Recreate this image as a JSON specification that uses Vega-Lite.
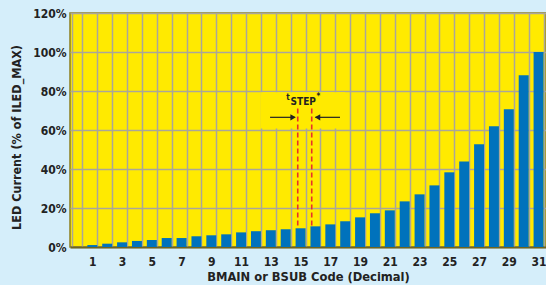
{
  "$schema": "https://vega.github.io/schema/vega-lite/v6.json",
  "width": 476,
  "height": 234,
  "autosize": {"type": "none"},
  "padding": {"left": 70, "top": 13, "right": 0, "bottom": 38},
  "background": "#d5eefa",
  "config": {
    "view": {"fill": "#ffea00", "stroke": "#8c7f1e", "strokeWidth": 1.5},
    "font": "DejaVu Sans Condensed, Roboto, sans-serif",
    "axis": {
      "gridColor": "#aaa69a",
      "gridWidth": 1.5,
      "gridOpacity": 1,
      "labelFont": "DejaVu Sans Condensed, Roboto, sans-serif",
      "labelFontWeight": "bold",
      "labelColor": "#222222",
      "titleFont": "DejaVu Sans Condensed, Roboto, sans-serif",
      "titleFontWeight": "bold",
      "titleColor": "#222222",
      "ticks": false,
      "domain": false
    }
  },
  "layer": [
    {
      "data": {"values": [
        {"code": 1, "pct": 1.0}, {"code": 2, "pct": 1.7}, {"code": 3, "pct": 2.4}, {"code": 4, "pct": 3.1},
        {"code": 5, "pct": 3.6}, {"code": 6, "pct": 4.6}, {"code": 7, "pct": 4.6}, {"code": 8, "pct": 5.5},
        {"code": 9, "pct": 6.0}, {"code": 10, "pct": 6.5}, {"code": 11, "pct": 7.5}, {"code": 12, "pct": 8.1},
        {"code": 13, "pct": 8.6}, {"code": 14, "pct": 9.1}, {"code": 15, "pct": 9.6}, {"code": 16, "pct": 10.6},
        {"code": 17, "pct": 11.6}, {"code": 18, "pct": 13.2}, {"code": 19, "pct": 15.2}, {"code": 20, "pct": 17.3},
        {"code": 21, "pct": 18.8}, {"code": 22, "pct": 23.4}, {"code": 23, "pct": 27.0}, {"code": 24, "pct": 31.6},
        {"code": 25, "pct": 38.3}, {"code": 26, "pct": 43.9}, {"code": 27, "pct": 52.7}, {"code": 28, "pct": 61.9},
        {"code": 29, "pct": 70.6}, {"code": 30, "pct": 88.1}, {"code": 31, "pct": 100.0}
      ]},
      "mark": {"type": "bar", "color": "#0072bc"},
      "encoding": {
        "x": {
          "field": "code", "type": "ordinal",
          "scale": {"domain": [0,1,2,3,4,5,6,7,8,9,10,11,12,13,14,15,16,17,18,19,20,21,22,23,24,25,26,27,28,29,30,31], "paddingInner": 0.33, "paddingOuter": 0.165},
          "axis": {
            "grid": true,
            "tickBand": "extent",
            "labelExpr": "datum.value % 2 == 1 ? datum.label : ''",
            "labelAngle": 0,
            "labelFontSize": 12,
            "labelPadding": 9,
            "title": "BMAIN or BSUB Code (Decimal)",
            "titleFontSize": 12.8,
            "titlePadding": 3,
            "domain": true,
            "domainColor": "#6e6520",
            "domainWidth": 2
          }
        },
        "y": {
          "field": "pct", "type": "quantitative",
          "scale": {"domain": [0, 120], "nice": false},
          "axis": {
            "values": [0, 20, 40, 60, 80, 100, 120],
            "labelExpr": "datum.value + '%'",
            "labelFontSize": 12,
            "labelPadding": 4,
            "labelOverlap": false,
            "title": "LED Current (% of ILED_MAX)",
            "titleFontSize": 12.5,
            "titleX": -47,
            "titleY": 124
          }
        }
      }
    },
    {
      "data": {"values": [{"x1": 12.3, "x2": 18.0, "y1": 60.8, "y2": 79.4}]},
      "mark": {"type": "rect", "color": "#ffea00"},
      "encoding": {
        "x": {"field": "x1", "type": "quantitative", "scale": {"domain": [-0.5, 31.5], "nice": false, "zero": false}, "axis": null},
        "x2": {"field": "x2"},
        "y": {"field": "y1", "type": "quantitative", "scale": {"domain": [0, 120], "nice": false}, "axis": null},
        "y2": {"field": "y2"}
      }
    },
    {
      "data": {"values": [{"x": 14.81, "y1": 71, "y2": 9.6}, {"x": 15.75, "y1": 71, "y2": 10.6}]},
      "mark": {"type": "rule", "color": "#e8302a", "strokeDash": [5, 3], "strokeWidth": 1.6},
      "encoding": {
        "x": {"field": "x", "type": "quantitative", "scale": {"domain": [-0.5, 31.5], "nice": false, "zero": false}, "axis": null},
        "y": {"field": "y1", "type": "quantitative", "scale": {"domain": [0, 120], "nice": false}, "axis": null},
        "y2": {"field": "y2"}
      }
    },
    {
      "data": {"values": [{"x1": 12.95, "x2": 14.6, "y": 66.5}, {"x1": 16.0, "x2": 17.65, "y": 66.5}]},
      "mark": {"type": "rule", "color": "#222222", "strokeWidth": 1.2},
      "encoding": {
        "x": {"field": "x1", "type": "quantitative", "scale": {"domain": [-0.5, 31.5], "nice": false, "zero": false}, "axis": null},
        "x2": {"field": "x2"},
        "y": {"field": "y", "type": "quantitative", "scale": {"domain": [0, 120], "nice": false}, "axis": null}
      }
    },
    {
      "data": {"values": [{"x": 14.5, "y": 66.5, "dir": "right"}, {"x": 16.14, "y": 66.5, "dir": "left"}]},
      "mark": {"type": "point", "filled": true, "opacity": 1, "color": "#222222", "size": 40},
      "encoding": {
        "x": {"field": "x", "type": "quantitative", "scale": {"domain": [-0.5, 31.5], "nice": false, "zero": false}, "axis": null},
        "y": {"field": "y", "type": "quantitative", "scale": {"domain": [0, 120], "nice": false}, "axis": null},
        "shape": {"field": "dir", "type": "nominal", "scale": {"domain": ["right", "left"], "range": ["triangle-right", "triangle-left"]}, "legend": null}
      }
    },
    {
      "data": {"values": [{"x": 14.16, "y": 76.3, "label": "t"}]},
      "mark": {"type": "text", "font": "DejaVu Sans Condensed, Roboto, sans-serif", "fontWeight": "bold", "fontSize": 8, "color": "#222222", "align": "center", "baseline": "middle"},
      "encoding": {
        "x": {"field": "x", "type": "quantitative", "scale": {"domain": [-0.5, 31.5], "nice": false, "zero": false}, "axis": null},
        "y": {"field": "y", "type": "quantitative", "scale": {"domain": [0, 120], "nice": false}, "axis": null},
        "text": {"field": "label"}
      }
    },
    {
      "data": {"values": [{"x": 15.18, "y": 74.4, "label": "STEP"}]},
      "mark": {"type": "text", "font": "DejaVu Sans Condensed, Roboto, sans-serif", "fontWeight": "bold", "fontSize": 10, "color": "#222222", "align": "center", "baseline": "middle"},
      "encoding": {
        "x": {"field": "x", "type": "quantitative", "scale": {"domain": [-0.5, 31.5], "nice": false, "zero": false}, "axis": null},
        "y": {"field": "y", "type": "quantitative", "scale": {"domain": [0, 120], "nice": false}, "axis": null},
        "text": {"field": "label"}
      }
    },
    {
      "data": {"values": [{"x": 16.2, "y": 76.8, "label": "*"}]},
      "mark": {"type": "text", "font": "DejaVu Sans Condensed, Roboto, sans-serif", "fontWeight": "bold", "fontSize": 8, "color": "#222222", "align": "center", "baseline": "middle"},
      "encoding": {
        "x": {"field": "x", "type": "quantitative", "scale": {"domain": [-0.5, 31.5], "nice": false, "zero": false}, "axis": null},
        "y": {"field": "y", "type": "quantitative", "scale": {"domain": [0, 120], "nice": false}, "axis": null},
        "text": {"field": "label"}
      }
    }
  ],
  "resolve": {"scale": {"x": "independent"}, "axis": {"y": "independent"}}
}
